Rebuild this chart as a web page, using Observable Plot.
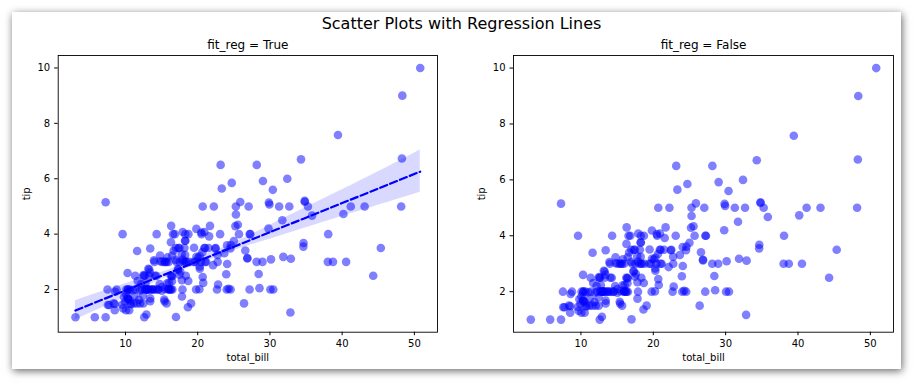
<!DOCTYPE html>
<html>
<head>
<meta charset="utf-8">
<script src="https://cdn.jsdelivr.net/npm/d3@7"></script>
<script src="https://cdn.jsdelivr.net/npm/@observablehq/plot@0.6"></script>
<style>
  html, body { margin: 0; padding: 0; background: #ffffff; }
  body { width: 914px; height: 383px; position: relative; overflow: hidden; font-family: "DejaVu Sans", sans-serif; }
  #fig { position: absolute; left: 12px; top: 12px; width: 889px; height: 357px; background: #fff;
         box-shadow: 1px 2px 8px rgba(0,0,0,0.6); }
  #suptitle { position: absolute; top: 14px; left: 0; width: 923px; text-align: center; font-size: 16px; color: #000; }
</style>
</head>
<body>
<div id="fig"></div>
<div id="suptitle">Scatter Plots with Regression Lines</div>
<script>
const suptitle = "Scatter Plots with Regression Lines";
const panelTitles = ["fit_reg = True", "fit_reg = False"];
const xLabel = "total_bill";
const yLabel = "tip";
const xTicks = [10, 20, 30, 40, 50];
const yTicks = [2, 4, 6, 8, 10];

const totalBill = [16.99,10.34,21.01,23.68,24.59,25.29,8.77,26.88,15.04,14.78,10.27,35.26,15.42,18.43,14.83,21.58,10.33,16.29,16.97,20.65,17.92,20.29,15.77,39.42,19.82,17.81,13.37,12.69,21.7,19.65,9.55,18.35,15.06,20.69,17.78,24.06,16.31,16.93,18.69,31.27,16.04,17.46,13.94,9.68,30.4,18.29,22.23,32.4,28.55,18.04,12.54,10.29,34.81,9.94,25.56,19.49,38.01,26.41,11.24,48.27,20.29,13.81,11.02,18.29,17.59,20.08,16.45,3.07,20.23,15.01,12.02,17.07,26.86,25.28,14.73,10.51,17.92,27.2,22.76,17.29,19.44,16.66,10.07,32.68,15.98,34.83,13.03,18.28,24.71,21.16,28.97,22.49,5.75,16.32,22.75,40.17,27.28,12.03,21.01,12.46,11.35,15.38,44.3,22.42,20.92,15.36,20.49,25.21,18.24,14.31,14.0,7.25,38.07,23.95,25.71,17.31,29.93,10.65,12.43,24.08,11.69,13.42,14.26,15.95,12.48,29.8,8.52,14.52,11.38,22.82,19.08,20.27,11.17,12.26,18.26,8.51,10.33,14.15,16.0,13.16,17.47,34.3,41.19,27.05,16.43,8.35,18.64,11.87,9.78,7.51,14.07,13.13,17.26,24.55,19.77,29.85,48.17,25.0,13.39,16.49,21.5,12.66,16.21,13.81,17.51,24.52,20.76,31.71,10.59,10.63,50.81,15.81,7.25,31.85,16.82,32.9,17.89,14.48,9.6,34.63,34.65,23.33,45.35,23.17,40.55,20.69,20.9,30.46,18.15,23.1,15.69,19.81,28.44,15.48,16.58,7.56,10.34,43.11,13.0,13.51,18.71,12.74,13.0,16.4,20.53,16.47,26.59,38.73,24.27,12.76,30.06,25.89,48.33,13.27,28.17,12.9,28.15,11.59,7.74,30.14,12.16,13.42,8.58,15.98,13.42,16.27,10.09,20.45,13.28,22.12,24.01,15.69,11.61,10.77,15.53,10.07,12.6,32.83,35.83,29.03,27.18,22.67,17.82,18.78];
const tipValues = [1.01,1.66,3.5,3.31,3.61,4.71,2.0,3.12,1.96,3.23,1.71,5.0,1.57,3.0,3.02,3.92,1.67,3.71,3.5,3.35,4.08,2.75,2.23,7.58,3.18,2.34,2.0,2.0,4.3,3.0,1.45,2.5,3.0,2.45,3.27,3.6,2.0,3.07,2.31,5.0,2.24,2.54,3.06,1.32,5.6,3.0,5.0,6.0,2.05,3.0,2.5,2.6,5.2,1.56,4.34,3.51,3.0,1.5,1.76,6.73,3.21,2.0,1.98,3.76,2.64,3.15,2.47,1.0,2.01,2.09,1.97,3.0,3.14,5.0,2.2,1.25,3.08,4.0,3.0,2.71,3.0,3.4,1.83,5.0,2.03,5.17,2.0,4.0,5.85,3.0,3.0,3.5,1.0,4.3,3.25,4.73,4.0,1.5,3.0,1.5,2.5,3.0,2.5,3.48,4.08,1.64,4.06,4.29,3.76,4.0,3.0,1.0,4.0,2.55,4.0,3.5,5.07,1.5,1.8,2.92,2.31,1.68,2.5,2.0,2.52,4.2,1.48,2.0,2.0,2.18,1.5,2.83,1.5,2.0,3.25,1.25,2.0,2.0,2.0,2.75,3.5,6.7,5.0,5.0,2.3,1.5,1.36,1.63,1.73,2.0,2.5,2.0,2.74,2.0,2.0,5.14,5.0,3.75,2.61,2.0,3.5,2.5,2.0,2.0,3.0,3.48,2.24,4.5,1.61,2.0,10.0,3.16,5.15,3.18,4.0,3.11,2.0,2.0,4.0,3.55,3.68,5.65,3.5,6.5,3.0,5.0,3.5,2.0,3.5,4.0,1.5,4.19,2.56,2.02,4.0,1.44,2.0,5.0,2.0,2.0,4.0,2.01,2.0,2.5,4.0,3.23,3.41,3.0,2.03,2.23,2.0,5.16,9.0,2.5,6.5,1.1,3.0,1.5,1.44,3.09,2.2,3.48,1.92,3.0,1.58,2.5,2.0,3.0,2.72,2.88,2.0,3.0,3.39,1.47,3.0,1.25,1.0,1.17,4.67,5.92,2.0,2.0,1.75,3.0];

// confidence band
const bandX    = [3.07, 10,   15,   20,   25,   30,   35,   40,   45,   50.81];
const bandLow  = [0.91, 1.73, 2.37, 2.90, 3.41, 3.82, 4.23, 4.64, 5.04, 5.51];
const bandHigh = [1.60, 2.21, 2.62, 3.14, 3.68, 4.32, 4.96, 5.60, 6.25, 7.04];

const data = totalBill.map((x, i) => ({total_bill: x, tip: tipValues[i]}));
const band = bandX.map((x, i) => ({x, lo: bandLow[i], hi: bandHigh[i]}));

function panel(title, fitReg, yDomain, marginLeft, marginRight) {
  const marks = [
    Plot.dot(data, {x: "total_bill", y: "tip", r: 4.3, fill: "blue", fillOpacity: 0.5, stroke: "none"})
  ];
  if (fitReg) {
    marks.push(Plot.areaY(band, {x: "x", y1: "lo", y2: "hi", fill: "blue", fillOpacity: 0.15, curve: "natural"}));
    marks.push(Plot.linearRegressionY(data, {x: "total_bill", y: "tip", stroke: "blue", strokeWidth: 2.2, strokeDasharray: "7.4,3.2", ci: 0}));
  }
  marks.push(
    Plot.frame({stroke: "black", strokeWidth: 0.9}),
    Plot.axisX({ticks: xTicks, tickSize: 3.5, tickPadding: 4, label: null, fontSize: 10}),
    Plot.axisY({ticks: yTicks, tickSize: 3.5, tickPadding: 4.5, label: null, fontSize: 10, tickFormat: d3.format("d")}),
    Plot.text([xLabel], {frameAnchor: "bottom", dy: 25.6, lineAnchor: "middle", textAnchor: "middle", fontSize: 10, fill: "black"}),
    Plot.text([yLabel], {frameAnchor: "left", dx: -31.7, rotate: -90, lineAnchor: "middle", textAnchor: "middle", fontSize: 10, fill: "black"}),
    Plot.text([title], {frameAnchor: "top", dy: -10, lineAnchor: "middle", textAnchor: "middle", fontSize: 12, fill: "black"})
  );
  return Plot.plot({
    width: 450, height: 340,
    marginLeft, marginRight, marginTop: 25, marginBottom: 38.3,
    x: {domain: [0.68, 53.2]},
    y: {domain: yDomain},
    style: {fontFamily: "DejaVu Sans", fontSize: "10px", color: "black", background: "transparent", overflow: "visible"},
    marks
  });
}

const left = panel(panelTitles[0], true, [0.46, 10.45], 57.7, 13);
const right = panel(panelTitles[1], false, [0.55, 10.45], 58, 12);
for (const [svg, x] of [[left, 0], [right, 455]]) {
  svg.style.position = "absolute";
  svg.style.left = x + "px";
  svg.style.top = "30px";
  document.body.appendChild(svg);
}
</script>
</body>
</html>
